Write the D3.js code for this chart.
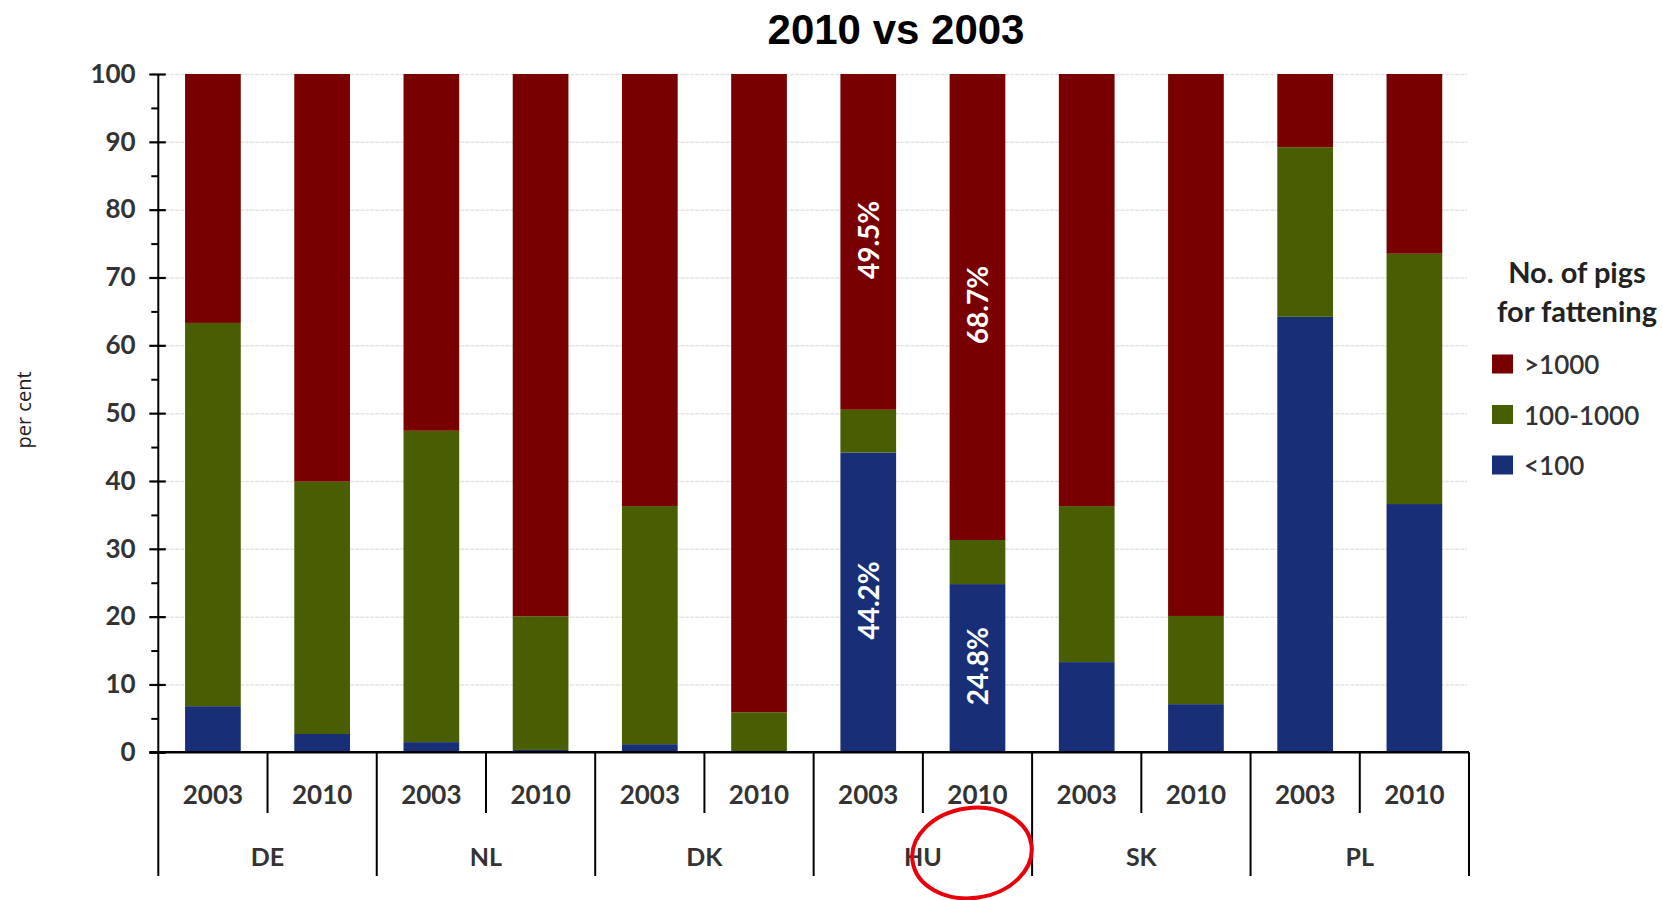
<!DOCTYPE html>
<html>
<head>
<meta charset="utf-8">
<script src="https://cdn.jsdelivr.net/npm/d3@7"></script>
<style>
  body { margin: 0; background: #fff; }
  text { font-family: Lato, "Open Sans", sans-serif; }
</style>
</head>
<body>
<svg id="chart" width="1663" height="900"></svg>
<script>
// Farm size shares for pigs for fattening, per country and year (per cent)
const countries = ["DE", "NL", "DK", "HU", "SK", "PL"];
const years = ["2003", "2010"];
const seriesNames = ["<100", "100-1000", ">1000"];
// one value per country/year, in order DE 2003, DE 2010, NL 2003, ...
const under100 = [6.8, 2.7, 1.5, 0.35, 1.2, 0, 44.2, 24.8, 13.3, 7.1, 64.2, 36.6];
const from100to1000 = [56.5, 37.2, 45.9, 19.7, 35.1, 5.9, 6.3, 6.5, 23.0, 13.0, 25.0, 36.9];
const over1000 = [36.7, 60.1, 52.6, 79.95, 63.7, 94.1, 49.5, 68.7, 63.7, 79.9, 10.8, 26.5];
const yTicks = [0, 10, 20, 30, 40, 50, 60, 70, 80, 90, 100];
const labelledCountry = "HU";
const labelledSeries = ["<100", ">1000"];

const colors = { "<100": "#182f77", "100-1000": "#485e00", ">1000": "#780000" };

const rows = [];
countries.forEach((c, ci) => years.forEach((yr, yi) => {
  const i = ci * years.length + yi;
  rows.push({ key: c + "|" + yr, country: c, year: yr,
    "<100": under100[i], "100-1000": from100to1000[i], ">1000": over1000[i] });
}));

const svg = d3.select("#chart");
const plotLeft = 158.3, plotRight = 1469, plotTop = 74, plotBottom = 752.3;

const x = d3.scaleBand().domain(rows.map(d => d.key)).range([plotLeft, plotRight])
  .paddingInner(0.49).paddingOuter(0.245);
const xCountry = d3.scaleBand().domain(countries).range([plotLeft, plotRight]);
const y = d3.scaleLinear().domain([0, 100]).range([plotBottom, plotTop]);

// gridlines
svg.append("g")
  .attr("transform", `translate(${plotLeft + 7},0)`)
  .call(d3.axisLeft(y).tickValues(yTicks.slice(1)).tickSize(-(plotRight - plotLeft - 9)).tickFormat(""))
  .call(g => g.select(".domain").remove())
  .call(g => g.selectAll("line").attr("stroke", "#e4e4e4").attr("stroke-width", 1.5)
    .attr("stroke-dasharray", "4,1"));

// stacked bars
const stack = d3.stack().keys(seriesNames)(rows);
const layers = svg.append("g").selectAll("g").data(stack).join("g")
  .attr("fill", d => colors[d.key]);
layers.selectAll("rect").data(d => d).join("rect")
  .attr("x", d => x(d.data.key))
  .attr("width", x.bandwidth())
  .attr("y", d => y(d[1]))
  .attr("height", d => Math.max(0, y(d[0]) - y(d[1])));

// value labels inside the highlighted bars
const labels = [];
stack.forEach(layer => {
  if (!labelledSeries.includes(layer.key)) return;
  layer.forEach(d => {
    if (d.data.country === labelledCountry) labels.push({ seg: d, value: d.data[layer.key] });
  });
});
svg.append("g").selectAll("text").data(labels).join("text")
  .attr("transform", d => `translate(${x(d.seg.data.key) + x.bandwidth() / 2},${(y(d.seg[0]) + y(d.seg[1])) / 2 - 2}) rotate(-90)`)
  .attr("text-anchor", "middle")
  .attr("dominant-baseline", "central")
  .attr("fill", "#fff")
  .attr("font-weight", 700)
  .attr("font-size", 28)
  .text(d => d.value.toFixed(1) + "%");

// y axis
const yAxis = svg.append("g")
  .attr("transform", `translate(${plotLeft},0)`)
  .call(d3.axisLeft(y).tickValues(yTicks).tickSize(9).tickPadding(13.6));
yAxis.select(".domain").attr("stroke", "#000").attr("stroke-width", 2).attr("d", `M0,${plotTop}V${plotBottom}`);
yAxis.selectAll(".tick line").attr("stroke", "#000").attr("stroke-width", 2.2).attr("x1", 7.5);
yAxis.selectAll(".tick text").attr("font-family", "Lato, sans-serif").attr("font-weight", 700)
  .attr("font-size", 26).attr("fill", "#333");
// minor ticks
svg.append("g")
  .attr("transform", `translate(${plotLeft},0)`)
  .call(d3.axisLeft(y).tickValues(yTicks.slice(0, -1).map(v => v + 5)).tickSize(7).tickFormat(""))
  .call(g => g.select(".domain").remove())
  .call(g => g.selectAll("line").attr("stroke", "#000").attr("stroke-width", 2));

// x axis: baseline, separators and two rows of labels
const xa = svg.append("g");
xa.append("line").attr("x1", plotLeft - 9).attr("x2", plotRight).attr("y1", plotBottom).attr("y2", plotBottom)
  .attr("stroke", "#000").attr("stroke-width", 2.4);
const countryEdges = countries.map(c => xCountry(c)).concat([plotRight]);
xa.selectAll(".csep").data(countryEdges).join("line")
  .attr("x1", d => d).attr("x2", d => d).attr("y1", plotBottom).attr("y2", 876)
  .attr("stroke", "#000").attr("stroke-width", 2);
const yearEdges = countries.map(c => xCountry(c) + xCountry.bandwidth() / 2);
xa.selectAll(".ysep").data(yearEdges).join("line")
  .attr("x1", d => d).attr("x2", d => d).attr("y1", plotBottom).attr("y2", 813)
  .attr("stroke", "#000").attr("stroke-width", 2);
xa.selectAll(".ylab").data(rows).join("text")
  .attr("x", d => x(d.key) + x.bandwidth() / 2)
  .attr("y", 804)
  .attr("text-anchor", "middle").attr("font-weight", 700).attr("font-size", 26).attr("fill", "#333")
  .text(d => d.year);
xa.selectAll(".clab").data(countries).join("text")
  .attr("x", d => xCountry(d) + xCountry.bandwidth() / 2)
  .attr("y", 866)
  .attr("text-anchor", "middle").attr("font-weight", 700).attr("font-size", 25).attr("fill", "#333")
  .text(d => d);

// hand-drawn red circle marking HU 2010
svg.append("ellipse")
  .attr("cx", 972).attr("cy", 853).attr("rx", 60).attr("ry", 45)
  .attr("transform", "rotate(-8,972,853)")
  .attr("fill", "none").attr("stroke", "#e8000b").attr("stroke-width", 4);

// title
svg.append("text").attr("x", 896).attr("y", 44).attr("text-anchor", "middle")
  .style("font-family", "'Liberation Sans', Arial, sans-serif")
  .attr("font-weight", 700).attr("font-size", 42).attr("fill", "#000")
  .text("2010 vs 2003");

// y axis title
svg.append("text").attr("transform", "translate(23,410) rotate(-90)")
  .attr("text-anchor", "middle").attr("dominant-baseline", "central")
  .style("font-family", "'Open Sans', sans-serif")
  .attr("font-size", 20).attr("fill", "#222")
  .text("per cent");

// legend
const legend = svg.append("g");
legend.selectAll(".lt").data(["No. of pigs", "for fattening"]).join("text")
  .attr("x", 1577).attr("y", (d, i) => 283 + i * 38.7)
  .attr("text-anchor", "middle").attr("font-weight", 700).attr("font-size", 29).attr("fill", "#222")
  .text(d => d);
const legendOrder = [">1000", "100-1000", "<100"];
const item = legend.selectAll(".li").data(legendOrder).join("g")
  .attr("transform", (d, i) => `translate(1492,${364 + i * 50.5})`);
item.append("rect").attr("x", 0).attr("y", -9.5).attr("width", 21).attr("height", 19)
  .attr("fill", d => colors[d]);
item.append("text").attr("x", 32).attr("y", 0).attr("dominant-baseline", "central")
  .attr("font-size", 26).attr("fill", "#333").attr("font-weight", 600)
  .text(d => d);
</script>
</body>
</html>
